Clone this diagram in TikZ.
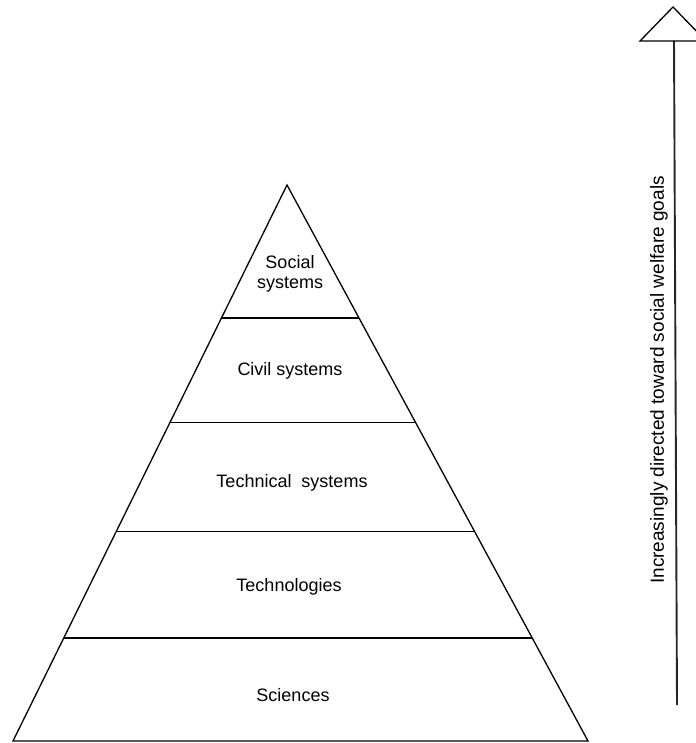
\documentclass[tikz,border=0pt]{standalone}
\usepackage{fontspec}
\setmainfont{Liberation Sans}
\usetikzlibrary{calc}
\tikzset{
    layer/.style={
        font=\fontsize{18}{20}\selectfont,
        align=center,
        inner sep=0pt
    },
    edge/.style={line width=1.3pt, line join=miter},
    shaft/.style={line width=1.9pt, draw=black!85},
    goal/.style={
        font=\fontsize{19}{22}\selectfont,
        rotate=90,
        inner sep=0pt
    }
}
\begin{document}
\begin{tikzpicture}[x=1pt,y=-1pt]
        \useasboundingbox (0,0) rectangle (695,743);
        % pyramid
        \coordinate (apex) at (287,185);
        \coordinate (base_left) at (13,741);
        \coordinate (base_right) at (588,741);
        \draw[edge] (apex) -- (base_left) -- (base_right) -- cycle;
        \foreach \t [count=\i] in {0.239,0.427,0.623,0.815}{
            \coordinate (left\i) at ($(apex)!\t!(base_left)$);
            \coordinate (right\i) at ($(apex)!\t!(base_right)$);
            \draw[edge] (left\i) -- (right\i);
        }

        \node[layer] (social) at (290,274) {Social\\systems};
        \node[layer] (civil) at (290,371) {Civil systems};
        \node[layer] (technical) at (292,483) {Technical\ \ systems};
        \node[layer] (technologies) at (289,587) {Technologies};
        \node[layer] (sciences) at (293,695) {Sciences};

        % arrow on the right
        \coordinate (goal_foot) at (677,705);
        \coordinate (goal_head) at (674,41);
        \coordinate (head_left) at (640,41);
        \coordinate (head_tip) at (673,7);
        \coordinate (head_right) at (706,41);
        \draw[shaft] (goal_foot) -- (goal_head);
        \draw[edge] (head_left) -- (head_tip) -- (head_right) -- cycle;
        \node[goal] (goal_text) at (659,380) {Increasingly directed toward social welfare goals};
    \end{tikzpicture}
\end{document}
